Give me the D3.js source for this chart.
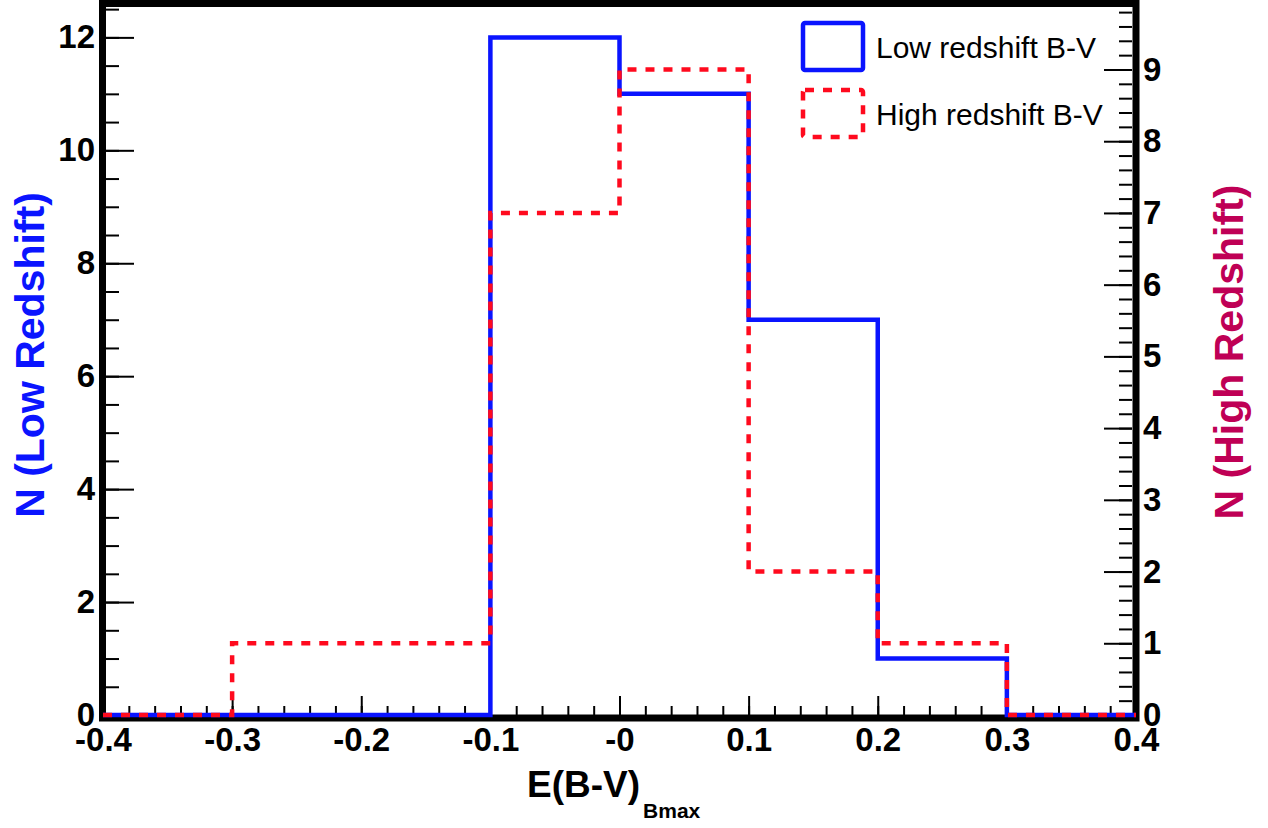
<!DOCTYPE html>
<html>
<head>
<meta charset="utf-8">
<script src="https://cdn.jsdelivr.net/npm/d3@7"></script>
<style>
  body { margin: 0; background: #fff; }
  svg { display: block; font-family: "Liberation Sans", Arial, Helvetica, sans-serif; }
</style>
</head>
<body>
<script>
// bin edges of E(B-V)_Bmax and counts per bin
const binEdges = [-0.4, -0.3, -0.2, -0.1, 0.0, 0.1, 0.2, 0.3, 0.4];
const lowCounts = [0, 0, 0, 12, 11, 7, 1, 0];   // left axis
const highCounts = [0, 1, 1, 7, 9, 2, 1, 0];   // right axis
const xTickValues = [-0.4, -0.3, -0.2, -0.1, 0.0, 0.1, 0.2, 0.3, 0.4];
const xTickLabels = ["-0.4", "-0.3", "-0.2", "-0.1", "-0", "0.1", "0.2", "0.3", "0.4"];
const leftTicks = [0, 2, 4, 6, 8, 10, 12];
const rightTicks = [0, 1, 2, 3, 4, 5, 6, 7, 8, 9];
const legendLabels = ["Low redshift B-V", "High redshift B-V"];

const width = 1268, height = 828;
const plotL = 103, plotR = 1136, plotT = 3.5, plotB = 715;

const svg = d3.select("body").append("svg")
  .attr("width", width)
  .attr("height", height);

const x = d3.scaleLinear().domain([-0.4, 0.4]).range([plotL, plotR]);
const yL = d3.scaleLinear().domain([0, 12.6]).range([plotB, plotT]);
const yR = d3.scaleLinear().domain([0, 9.92]).range([plotB, plotT]);

// frame
svg.append("rect")
  .attr("x", plotL - 0.5).attr("y", plotT)
  .attr("width", plotR - plotL + 0.5).attr("height", 718 - plotT)
  .attr("fill", "none")
  .attr("stroke", "#000")
  .attr("stroke-width", 7);

// axes ticks
function styleAxis(g) {
  g.select(".domain").remove();
  g.selectAll(".tick line").attr("stroke", "#000").attr("stroke-width", 2);
  g.selectAll(".tick text")
    .attr("fill", "#000")
    .attr("font-size", 33)
    .attr("font-weight", "bold");
}

const xMinor = d3.range(-0.4, 0.4001, 0.02);
svg.append("g")
  .attr("transform", `translate(0,${plotB})`)
  .call(d3.axisBottom(x).tickValues(xMinor).tickSize(-9).tickFormat(""))
  .call(styleAxis);
svg.append("g")
  .attr("transform", `translate(0,${plotB})`)
  .call(d3.axisBottom(x).tickValues(xTickValues).tickSize(-19).tickPadding(13)
    .tickFormat((d, i) => xTickLabels[i]))
  .call(styleAxis);

const leftMinor = d3.range(0, 12.51, 0.5);
svg.append("g")
  .attr("transform", `translate(106,0)`)
  .call(d3.axisLeft(yL).tickValues(leftMinor).tickSize(-13).tickFormat(""))
  .call(styleAxis);
svg.append("g")
  .attr("transform", `translate(106,0)`)
  .call(d3.axisLeft(yL).tickValues(leftTicks).tickSize(-28).tickPadding(11))
  .call(styleAxis);

const rightMinor = d3.range(0, 9.81, 0.2);
svg.append("g")
  .attr("transform", `translate(1132,0)`)
  .call(d3.axisRight(yR).tickValues(rightMinor).tickSize(-13).tickFormat(""))
  .call(styleAxis);
svg.append("g")
  .attr("transform", `translate(1132,0)`)
  .call(d3.axisRight(yR).tickValues(rightTicks).tickSize(-28).tickPadding(11))
  .call(styleAxis);

function stepPoints(counts) {
  const pts = counts.map((c, i) => [binEdges[i], c]);
  pts.push([binEdges[binEdges.length - 1], counts[counts.length - 1]]);
  return pts;
}

// histograms
const lineL = d3.line().x(d => x(d[0])).y(d => yL(d[1])).curve(d3.curveStepAfter);
const lineR = d3.line().x(d => x(d[0])).y(d => yR(d[1])).curve(d3.curveStepAfter);

svg.append("path")
  .attr("d", lineL(stepPoints(lowCounts)))
  .attr("fill", "none")
  .attr("stroke", "#0a14ff")
  .attr("stroke-width", 4.5);

svg.append("path")
  .attr("d", lineR(stepPoints(highCounts)))
  .attr("fill", "none")
  .attr("stroke", "#ff0a1e")
  .attr("stroke-width", 4.5)
  .attr("stroke-dasharray", "9,9");

// axis titles
const xt = svg.append("text")
  .attr("x", 527).attr("y", 797)
  .attr("font-size", 37).attr("font-weight", "bold").attr("fill", "#000");
xt.append("tspan").text("E(B-V)");
xt.append("tspan").attr("dy", 21).attr("dx", 3).attr("font-size", 21).text("Bmax");

svg.append("text")
  .attr("transform", "translate(44,355) rotate(-90)")
  .attr("text-anchor", "middle")
  .attr("font-size", 41).attr("font-weight", "bold")
  .attr("fill", "#0a14ff")
  .text("N (Low Redshift)");

svg.append("text")
  .attr("transform", "translate(1243,352) rotate(-90)")
  .attr("text-anchor", "middle")
  .attr("font-size", 41).attr("font-weight", "bold")
  .attr("fill", "#bf0055")
  .text("N (High Redshift)");

// legend
const legend = svg.append("g");
const legendStyles = [
  { stroke: "#0a14ff", dash: null, y: 23 },
  { stroke: "#ff0a1e", dash: "9,9", y: 90 }
];
legendStyles.forEach((s, i) => {
  legend.append("rect")
    .attr("x", 803).attr("y", s.y)
    .attr("width", 60).attr("height", 47)
    .attr("rx", 2)
    .attr("fill", "none")
    .attr("stroke", s.stroke)
    .attr("stroke-width", 4.5)
    .attr("stroke-dasharray", s.dash);
  legend.append("text")
    .attr("x", 876).attr("y", s.y + 35)
    .attr("font-size", 30)
    .attr("fill", "#000")
    .text(legendLabels[i]);
});
</script>
</body>
</html>
